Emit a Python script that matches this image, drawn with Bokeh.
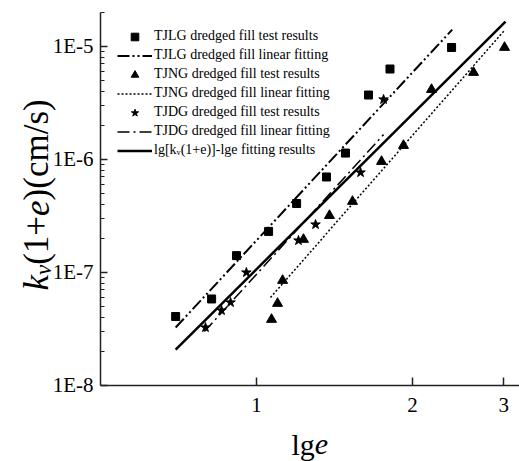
import math
from bokeh.plotting import figure
from bokeh.models import (FixedTicker, CustomJSTickFormatter, Label, Legend,
                          LegendItem, Range1d)
from bokeh.embed import file_html
from bokeh.resources import INLINE

# ---------------- data ----------------
tjlg_x = [0.698, 0.819, 0.915, 1.055, 1.195, 1.365, 1.485, 1.645, 1.81, 2.38]
tjlg_y = [4.08e-8, 5.83e-8, 1.41e-7, 2.31e-7, 4.08e-7, 7.0e-7, 1.14e-6,
          3.72e-6, 6.32e-6, 9.8e-6]

tjng_x = [1.069, 1.098, 1.123, 1.232, 1.383, 1.532, 1.743, 1.922, 2.177,
          2.624, 3.012]
tjng_y = [3.84e-8, 5.32e-8, 8.5e-8, 1.96e-7, 3.19e-7, 4.25e-7, 9.6e-7,
          1.33e-6, 4.16e-6, 5.89e-6, 9.8e-6]

tjdg_x = [0.797, 0.856, 0.891, 0.956, 1.205, 1.30, 1.588, 1.759]
tjdg_y = [3.26e-8, 4.61e-8, 5.43e-8, 1.0e-7, 1.92e-7, 2.66e-7, 7.67e-7,
          3.40e-6]

# fitted lines (end points)
tjlg_fit_x = [0.698, 2.387]
tjlg_fit_y = [3.26e-8, 1.41e-5]
tjng_fit_x = [1.064, 3.012]
tjng_fit_y = [6.0e-8, 1.39e-5]
tjdg_fit_x = [0.793, 1.759]
tjdg_fit_y = [3.0e-8, 1.66e-6]
all_fit_x = [0.698, 3.025]
all_fit_y = [2.08e-8, 1.66e-5]

x_ticks = [1, 2, 3]
y_ticks = [1e-8, 1e-7, 1e-6, 1e-5]
y_minor = [k * 10.0 ** e for e in (-8, -7, -6) for k in range(2, 10)] + [2e-5]
x_axis_start = 0.5
y_axis_start = 1e-8
y_axis_end = 2e-5

labels = ["TJLG dredged fill test results",
          "TJLG dredged fill linear fitting",
          "TJNG dredged fill test results",
          "TJNG dredged fill linear fitting",
          "TJDG dredged fill test results",
          "TJDG dredged fill linear fitting",
          "lg[k\u1d65(1+e)]-lge fitting results"]

FONT = "Liberation Serif"
W, H = 519, 461

# the frame covers the whole canvas; axes are pinned with fixed_location
p = figure(width=W, height=H, x_axis_type="log", y_axis_type="log",
           x_range=Range1d(0.3204, 3.219), y_range=Range1d(2.125e-9, 2.553e-5),
           output_backend="svg", toolbar_location=None,
           min_border_left=0, min_border_right=0, min_border_top=0,
           min_border_bottom=0)
p.outline_line_color = None
p.grid.visible = False
p.background_fill_color = "white"
p.border_fill_color = "white"

# lines
r_lg_fit = p.line(tjlg_fit_x, tjlg_fit_y, line_color="black", line_width=2,
                  line_dash="12 3 2 3 2 3")
r_ng_fit = p.line(tjng_fit_x, tjng_fit_y, line_color="black", line_width=1.5,
                  line_dash="2 2")
r_dg_fit = p.line(tjdg_fit_x, tjdg_fit_y, line_color="black", line_width=1.5,
                  line_dash="12 4 2 4")
r_all_fit = p.line(all_fit_x, all_fit_y, line_color="black", line_width=2.5)

# points
r_lg = p.scatter(tjlg_x, tjlg_y, marker="square", size=8, color="black")
r_ng = p.scatter(tjng_x, tjng_y, marker="triangle", size=10, color="black")
r_dg = p.scatter(tjdg_x, tjdg_y, marker="star", size=10, color="black")

legend = Legend(items=[
    LegendItem(label=labels[0], renderers=[r_lg]),
    LegendItem(label=labels[1], renderers=[r_lg_fit]),
    LegendItem(label=labels[2], renderers=[r_ng]),
    LegendItem(label=labels[3], renderers=[r_ng_fit]),
    LegendItem(label=labels[4], renderers=[r_dg]),
    LegendItem(label=labels[5], renderers=[r_dg_fit]),
    LegendItem(label=labels[6], renderers=[r_all_fit]),
], location=(117, 301.5))
legend.margin = 0
legend.padding = 0
legend.spacing = 0
legend.glyph_width = 35
legend.glyph_height = 19
legend.label_height = 19
legend.label_standoff = 2
legend.label_text_font = FONT
legend.label_text_font_size = "14px"
legend.label_text_color = "black"
legend.border_line_color = None
legend.background_fill_alpha = 0
p.add_layout(legend)

# axes
xa = p.xaxis[0]
xa.fixed_location = y_axis_start
xa.bounds = (x_axis_start, 3.219)
xa.ticker = FixedTicker(ticks=x_ticks, minor_ticks=[])
xa.formatter = CustomJSTickFormatter(code="return tick.toString()")
ya = p.yaxis[0]
ya.fixed_location = x_axis_start
ya.bounds = (y_axis_start, y_axis_end)
ya.ticker = FixedTicker(ticks=y_ticks, minor_ticks=y_minor)
ya.formatter = CustomJSTickFormatter(
    code="return '1E' + Math.round(Math.log10(tick))")
for ax in (xa, ya):
    ax.axis_line_color = "#222222"
    ax.axis_line_width = 1.5
    ax.major_tick_line_color = "#222222"
    ax.major_tick_line_width = 1.5
    ax.minor_tick_line_color = "#222222"
    ax.minor_tick_line_width = 1.2
    ax.major_tick_out = 0
    ax.minor_tick_out = 0
    ax.major_label_text_font = FONT
    ax.major_label_text_font_size = "21px"
    ax.major_label_text_color = "black"
xa.major_tick_in = 8
xa.minor_tick_in = 0
xa.major_label_standoff = 13
ya.major_tick_in = 7
ya.minor_tick_in = 4
ya.major_label_standoff = 7

# y axis label pieces (rotated), screen units from the canvas bottom-left
YF = 35
ylab = [("k", "italic", YF, 36, 171),
        ("v", "italic", 23, 43, 186.5),
        ("(1+", "normal", YF, 36, 196.7),
        ("e", "italic", YF, 36, 245.6),
        (")(cm/s)", "normal", YF, 36, 261.1)]
for txt, style, fs, xx, yy in ylab:
    p.add_layout(Label(x=xx, y=yy, x_units="screen", y_units="screen",
                       text=txt, angle=math.pi / 2, text_align="left",
                       text_baseline="alphabetic", text_font=FONT,
                       text_font_style=style, text_font_size=f"{fs}px",
                       text_color="black"))

# x axis label pieces
XF = 30
for txt, style, xx in [("lg", "normal", 291), ("e", "italic", 314.3)]:
    p.add_layout(Label(x=xx, y=17, x_units="screen", y_units="screen",
                       text=txt, text_align="left", text_baseline="alphabetic",
                       text_font=FONT, text_font_style=style,
                       text_font_size=f"{XF}px", text_color="black"))

open("out.html", "w").write(file_html(p, INLINE))
